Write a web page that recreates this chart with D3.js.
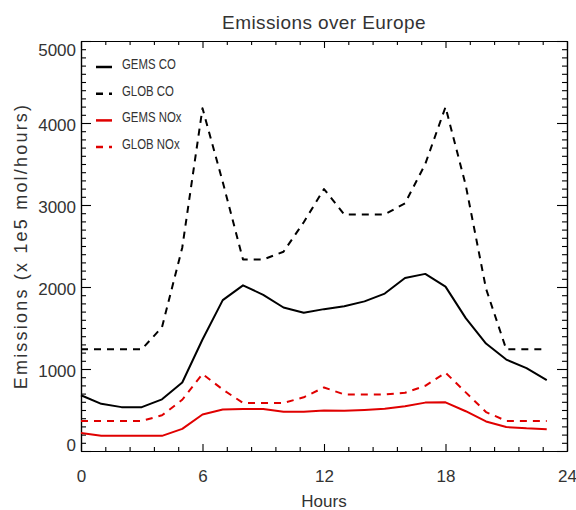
<!DOCTYPE html>
<html>
<head>
<meta charset="utf-8">
<script src="https://cdn.jsdelivr.net/npm/d3@7"></script>
<style>
  html, body { margin: 0; padding: 0; background: #fff; }
  svg text { font-family: "Liberation Sans", Arial, sans-serif; fill: #333; }
</style>
</head>
<body>
<svg id="chart" width="576" height="510"></svg>
<script>
// Hourly emissions over Europe.
const hours = d3.range(0, 24);
const gemsCO  = [680, 575, 535, 535, 630, 835, 1360, 1840, 2020, 1905, 1750, 1685,
                 1730, 1765, 1825, 1920, 2110, 2160, 2005, 1620, 1310, 1115, 1010, 865];
const globCO  = [1240, 1240, 1240, 1240, 1510, 2480, 4180, 3280, 2335, 2335, 2430, 2790,
                 3195, 2885, 2885, 2885, 3020, 3500, 4195, 3240, 1980, 1240, 1240, 1240];
const gemsNOx = [220, 185, 185, 185, 185, 270, 445, 505, 512, 512, 478, 478,
                 495, 490, 500, 515, 545, 590, 594, 485, 360, 292, 276, 266];
const globNOx = [367, 367, 367, 367, 435, 625, 940, 750, 586, 586, 586, 655,
                 775, 690, 690, 690, 710, 795, 955, 715, 475, 367, 367, 367];
const seriesNames = ["GEMS CO", "GLOB CO", "GEMS NOx", "GLOB NOx"];
const xMajor = [0, 6, 12, 18, 24];
const yMajor = [0, 1000, 2000, 3000, 4000, 5000];

const LEFT = 81, RIGHT = 567, TOP = 41, BOTTOM = 451;
const DASH = "7,6";

const series = [
  { name: seriesNames[0], values: gemsCO,  color: "#000",    dash: null },
  { name: seriesNames[1], values: globCO,  color: "#000",    dash: DASH },
  { name: seriesNames[2], values: gemsNOx, color: "#e00000", dash: null },
  { name: seriesNames[3], values: globNOx, color: "#e00000", dash: DASH },
];

const svg = d3.select("#chart");
const x = d3.scaleLinear().domain([0, 24]).range([LEFT, RIGHT]);
const y = d3.scaleLinear().domain([0, 5000]).range([BOTTOM, TOP]);

const xMinor = d3.range(0, 21).map((i) => +(i * 1.2).toFixed(1)).filter((t) => !xMajor.includes(t));
const yMinor = d3.range(0, 51).map((i) => i * 100).filter((t) => !yMajor.includes(t));

function styleAxis(g) {
  g.select(".domain").attr("stroke", "#000").attr("stroke-width", 1.2);
  g.selectAll(".tick line").attr("stroke", "#000").attr("stroke-width", 1.1);
  g.selectAll(".tick text").style("font-size", "17px").attr("fill", "#444");
}

// minor ticks first, major on top
svg.append("g").attr("transform", `translate(0,${BOTTOM})`)
  .call(d3.axisBottom(x).tickValues(xMinor).tickSize(-4).tickSizeOuter(0).tickFormat(""))
  .call(styleAxis);
svg.append("g").attr("transform", `translate(0,${TOP})`)
  .call(d3.axisTop(x).tickValues(xMinor).tickSize(-4).tickSizeOuter(0).tickFormat(""))
  .call(styleAxis);
svg.append("g").attr("transform", `translate(${LEFT},0)`)
  .call(d3.axisLeft(y).tickValues(yMinor).tickSize(-5).tickSizeOuter(0).tickFormat(""))
  .call(styleAxis);
svg.append("g").attr("transform", `translate(${RIGHT},0)`)
  .call(d3.axisRight(y).tickValues(yMinor).tickSize(-5).tickSizeOuter(0).tickFormat(""))
  .call(styleAxis);

svg.append("g").attr("transform", `translate(0,${BOTTOM})`)
  .call(d3.axisBottom(x).tickValues(xMajor).tickSize(-7).tickSizeOuter(0).tickPadding(19))
  .call(styleAxis);
svg.append("g").attr("transform", `translate(0,${TOP})`)
  .call(d3.axisTop(x).tickValues(xMajor).tickSize(-7).tickSizeOuter(0).tickFormat(""))
  .call(styleAxis);
const yAxisG = svg.append("g").attr("transform", `translate(${LEFT},0)`)
  .call(d3.axisLeft(y).tickValues(yMajor).tickSize(-10).tickSizeOuter(0).tickPadding(5)
    .tickFormat(d3.format("d")))
  .call(styleAxis);
// IDL nudges the end labels inside the axis range
yAxisG.selectAll(".tick text").attr("y", (d) => d === 5000 ? 9 : d === 0 ? -6 : 2);
svg.append("g").attr("transform", `translate(${RIGHT},0)`)
  .call(d3.axisRight(y).tickValues(yMajor).tickSize(-10).tickSizeOuter(0).tickFormat(""))
  .call(styleAxis);

// data lines
const line = d3.line().x((d, i) => x(hours[i])).y((d) => y(d));
svg.append("g").selectAll("path.series")
  .data(series).enter().append("path")
  .attr("class", "series")
  .attr("d", (s) => line(s.values))
  .attr("fill", "none")
  .attr("stroke", (s) => s.color)
  .attr("stroke-width", 2)
  .attr("stroke-linejoin", "round")
  .attr("stroke-dasharray", (s) => s.dash);

// legend
const legend = svg.append("g").selectAll("g.item")
  .data(series).enter().append("g").attr("class", "item")
  .attr("transform", (s, i) => `translate(96,${67 + i * 26.7})`);
legend.append("line")
  .attr("x1", 0).attr("x2", 16).attr("y1", 0).attr("y2", 0)
  .attr("stroke", (s) => s.color).attr("stroke-width", 2.5)
  .attr("stroke-dasharray", (s) => s.dash);
legend.append("text")
  .attr("transform", "translate(26,2) scale(0.76,1)")
  .style("font-size", "15px")
  .text((s) => s.name);

// titles
svg.append("text")
  .attr("x", 324).attr("y", 29).attr("text-anchor", "middle")
  .style("font-size", "19px").style("letter-spacing", "0.4px")
  .text("Emissions over Europe");
svg.append("text")
  .attr("x", 324).attr("y", 507).attr("text-anchor", "middle")
  .style("font-size", "17px").attr("fill", "#444")
  .text("Hours");
svg.append("text")
  .attr("transform", `translate(27,${(TOP + BOTTOM) / 2}) rotate(-90)`)
  .attr("text-anchor", "middle")
  .style("font-size", "18px").style("letter-spacing", "2.2px").attr("fill", "#444")
  .text("Emissions (x 1e5 mol/hours)");
</script>
</body>
</html>
